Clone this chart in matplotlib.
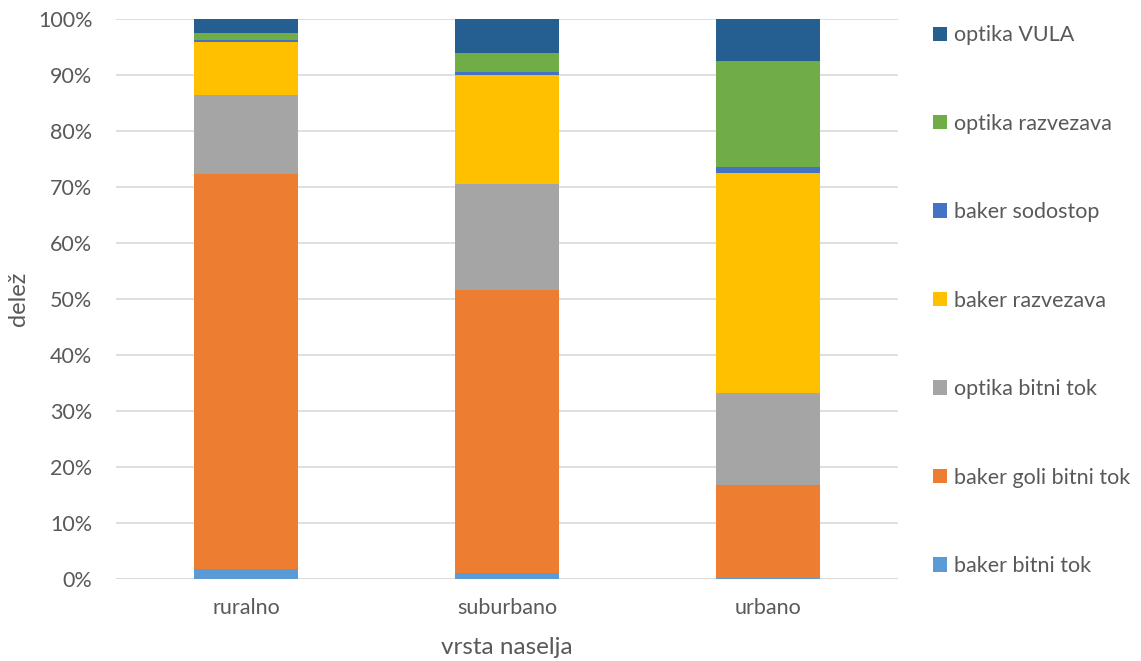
import numpy as np
import matplotlib
matplotlib.use("Agg")
import matplotlib.pyplot as plt
from matplotlib.ticker import PercentFormatter
from matplotlib.patches import Patch

# ── data (shares in %) ───────────────────────────────────────────────────────
categories = ["ruralno", "suburbano", "urbano"]
series = ["baker bitni tok", "baker goli bitni tok", "optika bitni tok",
          "baker razvezava", "baker sodostop", "optika razvezava", "optika VULA"]
baker_bitni_tok      = [1.7, 0.9, 0.1]
baker_goli_bitni_tok = [70.6, 50.7, 16.7]
optika_bitni_tok     = [14.1, 18.9, 16.4]
baker_razvezava      = [9.5, 19.5, 39.3]
baker_sodostop       = [0.4, 0.5, 1.1]
optika_razvezava     = [1.2, 3.4, 18.9]
optika_vula          = [2.5, 6.1, 7.5]

values = [baker_bitni_tok, baker_goli_bitni_tok, optika_bitni_tok,
          baker_razvezava, baker_sodostop, optika_razvezava, optika_vula]

# ── palette ──────────────────────────────────────────────────────────────────
COLORS = ["#5B9BD5", "#ED7D31", "#A5A5A5", "#FFC000", "#4472C4", "#70AD47", "#255E91"]
TXT  = "#595959"
GRID = "#D9D9D9"

plt.rcParams["font.family"] = ["Lato", "DejaVu Sans"]

fig = plt.figure(figsize=(11.41, 6.61), dpi=100, facecolor="white")
ax = fig.add_axes([0.1017, 0.1248, 0.6853, 0.8462])

x = np.arange(len(categories))
bottom = np.zeros(len(categories))
for name, vals, col in zip(series, values, COLORS):
    ax.bar(x, vals, bottom=bottom, width=0.4, color=col, label=name,
           zorder=3, linewidth=0)
    bottom += np.array(vals)

ax.set_xlim(-0.5, 2.5)
ax.set_ylim(0, 100)
ax.set_yticks(np.arange(0, 101, 10))
ax.yaxis.set_major_formatter(PercentFormatter(decimals=0))
ax.set_xticks(x)
ax.set_xticklabels(categories)
ax.tick_params(axis="both", length=0, labelsize=15.5, colors=TXT)
ax.tick_params(axis="y", pad=17)
ax.tick_params(axis="x", pad=14)

for spine in ax.spines.values():
    spine.set_visible(False)
ax.grid(axis="y", color=GRID, linewidth=1.2, zorder=0)
ax.axhline(0, color=GRID, linewidth=1.2, zorder=1)

ax.set_ylabel("delež", fontsize=17, color=TXT)
ax.yaxis.set_label_coords(-0.111, 0.5)
ax.set_xlabel("vrsta naselja", fontsize=17.5, color=TXT)
ax.xaxis.set_label_coords(0.5, -0.105)

# ── legend ───────────────────────────────────────────────────────────────────
handles = [Patch(facecolor=c, label=s) for s, c in zip(series, COLORS)][::-1]
leg = fig.legend(handles=handles, loc="upper left", bbox_to_anchor=(0.801, 0.991),
                 frameon=False, fontsize=15.5, labelcolor=TXT,
                 handlelength=0.65, handleheight=0.65, handletextpad=0.3,
                 labelspacing=3.18)

plt.savefig("out.png", dpi=100, facecolor="white")
